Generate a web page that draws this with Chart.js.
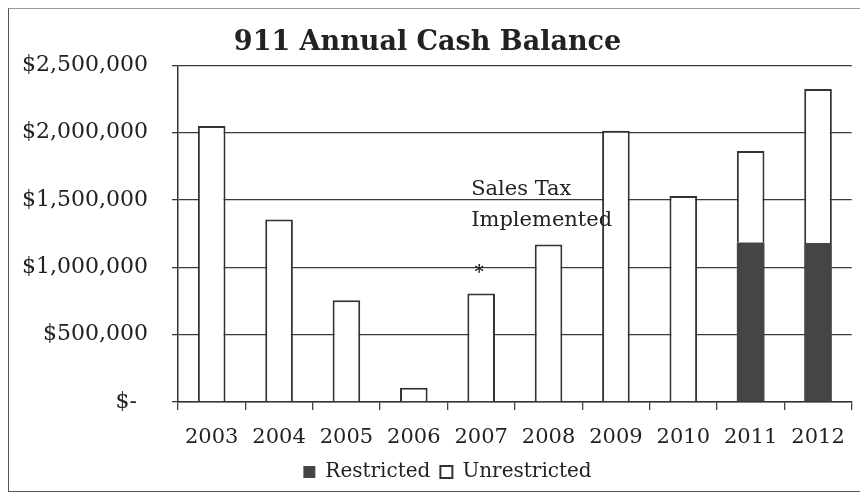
<!DOCTYPE html>
<html>
<head>
<meta charset="utf-8">
<script src="https://cdn.jsdelivr.net/npm/chart.js@4/dist/chart.umd.min.js"></script>
<style>
  html, body { margin: 0; padding: 0; background: #fff; }
  #wrap { position: relative; width: 860px; height: 499px; overflow: hidden; }
  #frame { position: absolute; left: 8px; top: 8px; width: 900px; height: 484px;
           border-left: 1px solid #555; border-top: 1px solid #999; border-bottom: 1px solid #555; box-sizing: border-box; }
  canvas { position: absolute; left: 0; top: 0; }
</style>
</head>
<body>
<div id="wrap">
  <div id="frame"></div>
  <canvas id="c" width="860" height="499"></canvas>
</div>
<script>
const years = ['2003','2004','2005','2006','2007','2008','2009','2010','2011','2012'];
const restricted = [null,null,null,null,null,null,null,null,1185000,1180000];
const unrestricted = [2050000,1355000,755000,105000,805000,1170000,2015000,1530000,680000,1145000];
const yTickValues = [0,500000,1000000,1500000,2000000,2500000];
const noteLines = ['Sales Tax','Implemented'];
const noteCategory = '2007';
const noteLineValues = [1575000,1345000];
const starValue = 955000;

const FONT = '"DejaVu Serif", "Liberation Serif", serif';

function money(v) {
  if (v === 0) return '$-\u2002';
  return '$' + v.toLocaleString('en-US');
}

const notePlugin = {
  id: 'note',
  afterLayout(chart) {
    if (chart.legend) { chart.legend.left += 20; chart.legend.right += 20; }
  },
  afterDatasetsDraw(chart) {
    const ctx = chart.ctx;
    const xs = chart.scales.x, ys = chart.scales.y;
    const cx = xs.getPixelForValue(years.indexOf(noteCategory));
    ctx.save();
    ctx.fillStyle = '#222';
    ctx.font = '21px ' + FONT;
    ctx.textAlign = 'left';
    ctx.textBaseline = 'middle';
    noteLines.forEach((t, i) => ctx.fillText(t, cx - 10, ys.getPixelForValue(noteLineValues[i])));
    ctx.font = 'bold 18px ' + FONT;
    ctx.textAlign = 'center';
    ctx.fillText('*', cx - 2, ys.getPixelForValue(starValue));
    ctx.restore();
  }
};

new Chart(document.getElementById('c'), {
  type: 'bar',
  data: {
    labels: years,
    datasets: [
      { label: 'Restricted', data: restricted, backgroundColor: '#454545', borderColor: '#454545', borderWidth: 0,
        barPercentage: 0.41, categoryPercentage: 1.0 },
      { label: 'Unrestricted', data: unrestricted, backgroundColor: '#ffffff', borderColor: '#333333', borderWidth: 2,
        barPercentage: 0.41, categoryPercentage: 1.0 }
    ]
  },
  options: {
    responsive: false,
    animation: false,
    layout: { padding: { left: 0, right: 5, top: 3, bottom: 7 } },
    plugins: {
      title: { display: true, text: '911 Annual Cash Balance', color: '#222',
               font: { family: FONT, size: 27, weight: 'bold', lineHeight: 1.2 },
               padding: { top: 24, bottom: 6 } },
      legend: { position: 'bottom',
                labels: { color: '#222', font: { family: FONT, size: 20 }, boxWidth: 12, boxHeight: 12, padding: 10 } },
      tooltip: { enabled: false }
    },
    scales: {
      x: {
        stacked: true,
        grid: { drawOnChartArea: false, drawTicks: true, tickLength: 8, color: '#444', lineWidth: 1.3, offset: true },
        border: { color: '#333', width: 1.5 },
        ticks: { color: '#222', font: { family: FONT, size: 21 }, padding: 15 },
        afterFit(s) { s.height = 50; }
      },
      y: {
        stacked: true,
        min: 0, max: 2500000,
        afterBuildTicks(s) { s.ticks = yTickValues.map(v => ({ value: v })); },
        grid: { color: '#3a3a3a', lineWidth: 1.3, tickLength: 6 },
        border: { color: '#333', width: 1.5 },
        ticks: { color: '#222', font: { family: FONT, size: 22 }, padding: 24, callback: v => money(v) },
        afterFit(s) { s.width = 178; }
      }
    }
  },
  plugins: [notePlugin]
});
</script>
</body>
</html>
